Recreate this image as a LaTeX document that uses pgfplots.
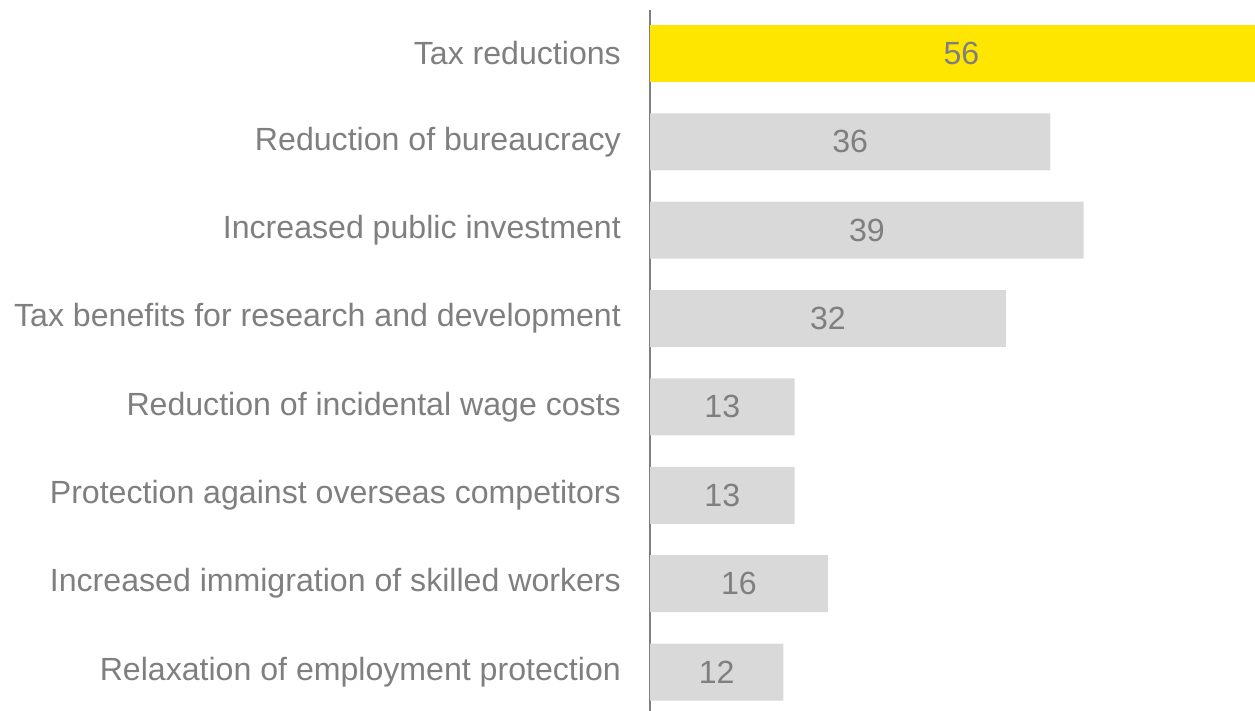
\documentclass[border=0pt]{standalone}
\usepackage{pgfplots}
\pgfplotsset{compat=1.18}
\usepackage{fontspec}
\setmainfont{Liberation Sans}
\definecolor{eyyellow}{HTML}{FFE600}
\definecolor{barg}{HTML}{D9D9D9}
\definecolor{txtg}{HTML}{7F7F7F}
\newcommand{\lbl}{\fontsize{32.1}{38}\selectfont}
\begin{document}
\begin{tikzpicture}
\useasboundingbox (0,0) rectangle (1255pt,711pt);
\begin{axis}[
  at={(650pt,0pt)}, anchor=south west,
  scale only axis,
  width=605pt, height=701pt,
  xmin=0, xmax=54.4,
  ymin=-0.441, ymax=7.492,
  axis x line=none,
  axis y line=left,
  axis line style={-, draw=txtg, line width=1.8pt},
  every outer y axis line/.append style={-, draw=txtg, line width=1.8pt},
  ytick={0,...,7},
  yticklabels={
    Relaxation of employment protection,
    Increased immigration of skilled workers,
    Protection against overseas competitors,
    Reduction of incidental wage costs,
    Tax benefits for research and development,
    Increased public investment,
    Reduction of bureaucracy,
    Tax reductions},
  major tick length=0pt,
  yticklabel style={font=\lbl, text=txtg, inner sep=0pt, anchor=east, xshift=-29pt},
  /pgf/number format/assume math mode=true,
]
% grey bars: value, position
\addplot[xbar, bar width=57pt, bar shift=0pt, fill=barg, draw=none] coordinates {
  (12,0) (16,1) (13,2) (13,3) (32,4) (39,5) (36,6)};
\addplot[xbar, bar width=57pt, bar shift=0pt, fill=eyyellow, draw=none] coordinates {(56,7)};
% value labels centred in each bar
\addplot[draw=none, mark=none,
  nodes near coords, point meta=explicit,
  nodes near coords style={font=\lbl, text=txtg, anchor=center},
] table[x expr=\thisrow{v}/2, y=y, meta=v] {
  y v
  0 12
  1 16
  2 13
  3 13
  4 32
  5 39
  6 36
  7 56
};
\end{axis}
\end{tikzpicture}
\end{document}
